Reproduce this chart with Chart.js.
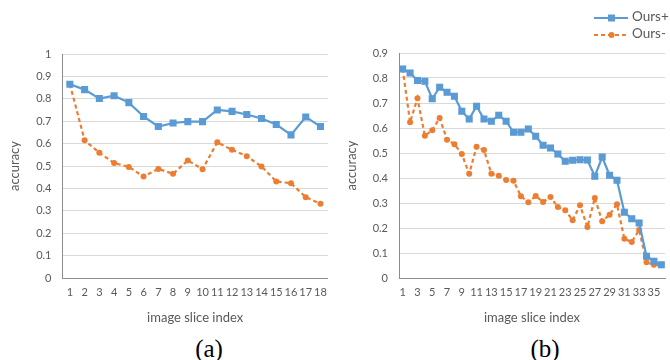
<!DOCTYPE html>
<html>
<head>
<meta charset="utf-8">
<script src="https://cdn.jsdelivr.net/npm/chart.js@4/dist/chart.umd.min.js"></script>
<style>
    body { margin: 0; background: #fff; width: 670px; height: 360px; overflow: hidden; position: relative; font-family: Lato, "Open Sans", sans-serif; }
    .panel { position: absolute; top: 0; width: 335px; height: 330px; }
    .caption { position: absolute; top: 334px; font-family: "Liberation Serif", "DejaVu Serif", serif; font-size: 25px; color: #000; transform: translateX(-50%); line-height: 30px; }
    .legend { position: absolute; left: 594px; top: 8px; font-size: 13.5px; color: #595959; }
    .legend div { height: 17px; line-height: 17px; white-space: nowrap; }
    .legend svg { vertical-align: middle; margin-right: 4px; }
</style>
</head>
<body>
<div class="panel" style="left:0"><canvas id="chart-a"></canvas></div>
<div class="panel" style="left:335px"><canvas id="chart-b"></canvas></div>
<div class="caption" style="left:209px">(a)</div>
<div class="caption" style="left:545px">(b)</div>
<div class="legend">
    <div><svg width="34" height="10"><line x1="0" y1="5" x2="34" y2="5" stroke="#5b9bd5" stroke-width="2.2"/><rect x="14" y="1.5" width="7" height="7" fill="#5b9bd5"/></svg>Ours+</div>
    <div><svg width="34" height="10"><line x1="0" y1="5" x2="34" y2="5" stroke="#ed7d31" stroke-width="2.2" stroke-dasharray="4 3"/><circle cx="17.5" cy="5" r="3" fill="#ed7d31"/></svg>Ours-</div>
</div>
<script>
// chart (a): 18 slices
const sliceIdxA = ['1', '2', '3', '4', '5', '6', '7', '8', '9', '10', '11', '12', '13', '14', '15', '16', '17', '18'];
const oursPlusA = [0.865, 0.841, 0.801, 0.814, 0.783, 0.721, 0.676, 0.692, 0.698, 0.698, 0.75, 0.744, 0.73, 0.712, 0.685, 0.639, 0.719, 0.676];
const oursMinusA = [0.865, 0.615, 0.559, 0.513, 0.496, 0.453, 0.487, 0.465, 0.525, 0.486, 0.606, 0.572, 0.544, 0.498, 0.431, 0.423, 0.361, 0.331];

// chart (b): 36 slices
const sliceIdxB = ['1', '2', '3', '4', '5', '6', '7', '8', '9', '10', '11', '12', '13', '14', '15', '16', '17', '18',
                   '19', '20', '21', '22', '23', '24', '25', '26', '27', '28', '29', '30', '31', '32', '33', '34', '35', '36'];
const oursPlusB = [0.836, 0.82, 0.79, 0.787, 0.717, 0.763, 0.743, 0.727, 0.667, 0.636, 0.687, 0.636, 0.627, 0.651, 0.627, 0.583, 0.583, 0.596,
                   0.567, 0.531, 0.52, 0.496, 0.467, 0.471, 0.473, 0.472, 0.407, 0.484, 0.411, 0.391, 0.263, 0.237, 0.22, 0.087, 0.067, 0.053];
const oursMinusB = [0.836, 0.623, 0.719, 0.569, 0.591, 0.64, 0.553, 0.535, 0.496, 0.417, 0.525, 0.512, 0.417, 0.409, 0.392, 0.389, 0.327, 0.303,
                    0.328, 0.304, 0.324, 0.284, 0.271, 0.231, 0.291, 0.204, 0.32, 0.227, 0.253, 0.295, 0.157, 0.144, 0.192, 0.063, 0.053, 0.051];

const seriesNames = ['Ours+', 'Ours-'];
const blue = '#5b9bd5';
const orange = '#ed7d31';
const textGray = '#595959';

// Build one line chart panel
function makePanel(canvasId, labels, plus, minus, yMax, oddLabelsOnly, opts) {
    const ctx = document.getElementById(canvasId);
    return new Chart(ctx, {
        type: 'line',
        data: {
            labels: labels,
            datasets: [
                {
                    label: seriesNames[0],
                    data: plus,
                    borderColor: blue,
                    backgroundColor: blue,
                    borderWidth: 2.2,
                    pointStyle: 'rect',
                    pointRadius: 5,
                    pointBorderWidth: 0,
                    tension: 0
                },
                {
                    label: seriesNames[1],
                    data: minus,
                    borderColor: orange,
                    backgroundColor: orange,
                    borderWidth: 2.2,
                    borderDash: [4, 3],
                    pointStyle: 'circle',
                    pointRadius: 3,
                    pointBorderWidth: 0,
                    tension: 0
                }
            ]
        },
        options: {
            responsive: true,
            maintainAspectRatio: false,
            animation: false,
            layout: {
                padding: { left: 0, top: opts.top, right: opts.right, bottom: 0 }
            },
            plugins: {
                legend: { display: false },
                tooltip: { enabled: false }
            },
            scales: {
                x: {
                    offset: true,
                    grid: { display: false, drawTicks: false },
                    border: { display: true, color: '#8c8c8c', width: 1 },
                    ticks: {
                        autoSkip: false,
                        maxRotation: 0,
                        padding: 8,
                        color: textGray,
                        font: { family: 'Lato', size: 11 },
                        callback: function(value, index) {
                            if (oddLabelsOnly && index % 2 === 1) return '';
                            return labels[index];
                        }
                    },
                    title: {
                        display: true,
                        text: 'image slice index',
                        color: textGray,
                        font: { family: 'Lato', size: 13 },
                        padding: { top: 0, bottom: 4 }
                    },
                    afterFit: function(scale) { scale.height = 52; }
                },
                y: {
                    min: 0,
                    max: yMax,
                    grid: { color: '#d9d9d9', drawTicks: false },
                    border: { display: true, color: '#8c8c8c', width: 1 },
                    ticks: {
                        stepSize: 0.1,
                        padding: 11,
                        color: textGray,
                        font: { family: 'Lato', size: 11 },
                        callback: function(value) {
                            return String(+value.toFixed(1));
                        }
                    },
                    title: {
                        display: true,
                        text: 'accuracy',
                        color: textGray,
                        font: { family: 'Lato', size: 13 },
                        padding: { top: opts.titlePad, bottom: 0 }
                    },
                    afterFit: function(scale) { scale.width = opts.left; }
                }
            }
        }
    });
}

makePanel('chart-a', sliceIdxA, oursPlusA, oursMinusA, 1, false, { top: 54, right: 2.5, left: 62.5, titlePad: 7 });
makePanel('chart-b', sliceIdxB, oursPlusB, oursMinusB, 0.9, true, { top: 53, right: 2, left: 64, titlePad: 9 });
</script>
</body>
</html>
